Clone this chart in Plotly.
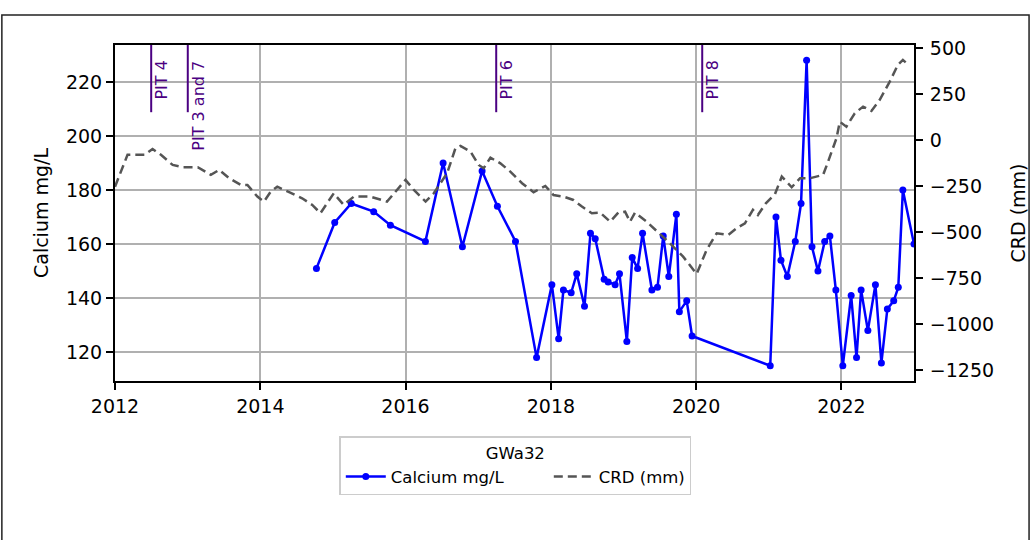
import plotly.graph_objects as go

# ---------------- data ----------------
ca_dates = ["2014-10-10", "2015-01-10", "2015-04-03", "2015-07-25", "2015-10-17",
            "2016-04-10", "2016-07-08", "2016-10-13", "2017-01-20", "2017-04-07",
            "2017-07-07", "2017-10-21", "2018-01-06", "2018-02-09", "2018-03-05",
            "2018-04-13", "2018-05-11", "2018-06-19", "2018-07-19", "2018-08-12",
            "2018-09-26", "2018-10-16", "2018-11-20", "2018-12-12", "2019-01-18",
            "2019-02-14", "2019-03-13", "2019-04-07", "2019-05-24", "2019-06-21",
            "2019-07-20", "2019-08-17", "2019-09-24", "2019-10-09", "2019-11-15",
            "2019-12-12", "2021-01-08", "2021-02-06", "2021-03-03", "2021-04-04",
            "2021-05-14", "2021-06-12", "2021-07-10", "2021-08-06", "2021-09-05",
            "2021-10-09", "2021-11-04", "2021-12-04", "2022-01-08", "2022-02-19",
            "2022-03-18", "2022-04-10", "2022-05-14", "2022-06-21", "2022-07-21",
            "2022-08-20", "2022-09-21", "2022-10-14", "2022-11-06", "2023-01-01"]
ca_values = [151, 168, 175, 172, 167,
             161, 190, 159, 187, 174,
             161, 118, 145, 125, 143,
             142, 149, 137, 164, 162,
             147, 146, 145, 149, 124,
             155, 151, 164, 143, 144,
             163, 148, 171, 135, 139,
             126, 115, 170, 154, 148,
             161, 175, 228, 159, 150,
             161, 163, 143, 115, 141,
             118, 143, 128, 145, 116,
             136, 139, 144, 180, 160]

crd_dates = ["2012-01-01", "2012-03-04", "2012-05-28", "2012-07-08", "2012-08-19",
             "2012-10-17", "2012-12-06", "2013-02-20", "2013-04-27", "2013-06-08",
             "2013-07-28", "2013-09-25", "2013-10-28", "2013-12-17", "2014-01-19",
             "2014-02-22", "2014-03-27", "2014-06-10", "2014-07-30", "2014-09-19",
             "2014-10-30", "2015-01-05", "2015-02-24", "2015-04-16", "2015-07-08",
             "2015-09-30", "2016-01-01", "2016-02-12", "2016-04-11", "2016-05-22",
             "2016-07-28", "2016-09-08", "2016-10-03", "2016-11-23", "2017-01-03",
             "2017-01-28", "2017-03-03", "2017-04-22", "2017-06-11", "2017-08-09",
             "2017-10-06", "2017-12-04", "2018-01-14", "2018-03-05", "2018-04-24",
             "2018-06-06", "2018-07-26", "2018-09-06", "2018-10-26", "2018-12-06",
             "2019-01-09", "2019-02-03", "2019-02-28", "2019-04-27", "2019-06-13",
             "2019-08-22", "2019-10-28", "2020-01-04", "2020-02-23", "2020-04-14",
             "2020-06-11", "2020-07-23", "2020-09-03", "2020-10-13", "2020-11-07",
             "2020-12-17", "2021-02-01", "2021-03-07", "2021-04-26", "2021-06-07",
             "2021-07-27", "2021-10-01", "2021-10-26", "2021-12-07", "2021-12-24",
             "2022-01-26", "2022-03-09", "2022-04-20", "2022-06-01", "2022-07-12",
             "2022-09-01", "2022-10-12", "2022-11-06", "2022-12-01"]
crd_values = [-254, -81, -81, -49, -81,
              -136, -148, -148, -190, -163,
              -208, -245, -245, -308, -335,
              -281, -254, -290, -317, -353,
              -398, -290, -353, -308, -308,
              -335, -217, -272, -335, -290,
              -181, -45, -33, -64, -136,
              -154, -96, -127, -172, -235,
              -284, -250, -299, -308, -326,
              -362, -398, -395, -444, -395,
              -390, -444, -395, -444, -490,
              -561, -634, -728, -598, -507,
              -516, -480, -453, -380, -408,
              -344, -294, -199, -257, -208,
              -208, -190, -118, 9, 99,
              72, 145, 181, 158, 217,
              317, 408, 435, 411]

pit_labels = ["PIT 4", "PIT 3 and 7", "PIT 6", "PIT 8"]
pit_dates = ["2012-07-01", "2013-01-01", "2017-04-01", "2020-02-01"]

x_range = ["2012-01-01", "2023-01-01"]
y_range = [109.35, 233.65]
y2_range = [-1310, 516]
x_ticks = ["2012-01-01", "2014-01-01", "2016-01-01", "2018-01-01", "2020-01-01", "2022-01-01"]
x_ticktext = ["2012", "2014", "2016", "2018", "2020", "2022"]

FONT = "DejaVu Sans"
PIT_COLOR = "#4b0082"

fig = go.Figure()
fig.add_trace(go.Scatter(
    x=ca_dates, y=ca_values, name="Calcium mg/L", mode="lines+markers",
    line=dict(color="#0000ff", width=2.5), marker=dict(color="#0000ff", size=7),
    yaxis="y", legendwidth=153))
fig.add_trace(go.Scatter(
    x=crd_dates, y=crd_values, name="CRD (mm)", mode="lines",
    line=dict(color="#555555", width=2.5, dash="9px,5px"),
    yaxis="y2"))

shapes = []
annotations = []
for lbl, d in zip(pit_labels, pit_dates):
    shapes.append(dict(type="line", xref="x", yref="paper", x0=d, x1=d, y0=0.8, y1=1.0,
                       line=dict(color=PIT_COLOR, width=2)))
    annotations.append(dict(x=d, y=0.99, xref="x", yref="paper", text=lbl, textangle=-90,
                            xanchor="left", yanchor="top", showarrow=False, yshift=-11,
                            borderpad=0, font=dict(family=FONT, size=16, color=PIT_COLOR)))

# outer figure border
shapes.append(dict(type="rect", xref="paper", yref="paper", x0=-0.1416, x1=1.144,
                   y0=-0.6, y1=1.0893, line=dict(color="#222222", width=1.5),
                   fillcolor="rgba(0,0,0,0)", layer="below"))

fig.update_layout(
    width=1038, height=540, autosize=False,
    margin=dict(l=115, r=118, t=45, b=159),
    paper_bgcolor="white", plot_bgcolor="white",
    font=dict(family=FONT, size=19, color="black"),
    showlegend=True,
    legend=dict(
        orientation="h", x=0.501, xanchor="center", y=-0.165, yanchor="top",
        bordercolor="#cccccc", borderwidth=1.5, bgcolor="white",
        font=dict(family=FONT, size=16.5, color="black"),
        title=dict(text="GWa32", side="top center", font=dict(family=FONT, size=16.5)),
        itemwidth=40,
    ),
    xaxis=dict(
        type="date", range=x_range, tickvals=x_ticks, ticktext=x_ticktext,
        showgrid=True, gridcolor="#b0b0b0", gridwidth=1.6,
        showline=True, linecolor="black", linewidth=2, mirror=True,
        ticks="outside", ticklen=7, tickwidth=1.6, tickcolor="black",
        tickfont=dict(size=19), zeroline=False,
    ),
    yaxis=dict(
        range=y_range, tickvals=[120, 140, 160, 180, 200, 220],
        showgrid=True, gridcolor="#b0b0b0", gridwidth=1.6,
        showline=True, linecolor="black", linewidth=2, mirror=True,
        ticks="outside", ticklen=7, tickwidth=1.6, tickcolor="black",
        tickfont=dict(size=19), zeroline=False,
        title=dict(text="Calcium mg/L", font=dict(size=19), standoff=12),
    ),
    yaxis2=dict(
        overlaying="y", side="right", range=y2_range,
        tickvals=[-1250, -1000, -750, -500, -250, 0, 250, 500],
        ticktext=["\u22121250", "\u22121000", "\u2212750", "\u2212500", "\u2212250", "0", "250", "500"],
        showgrid=False, zeroline=False, showline=True, linecolor="black", linewidth=2,
        ticks="outside", ticklen=7, tickwidth=1.6, tickcolor="black",
        tickfont=dict(size=19), ticklabelstandoff=3,
        title=dict(text="CRD (mm)", font=dict(size=19), standoff=19),
    ),
    shapes=shapes, annotations=annotations,
)

fig.write_html("out.html", config={"displayModeBar": False, "responsive": False},
               post_script="document.body.style.margin='0px';"
                           "document.body.style.overflow='hidden';"
                           "document.documentElement.style.overflow='hidden';")
